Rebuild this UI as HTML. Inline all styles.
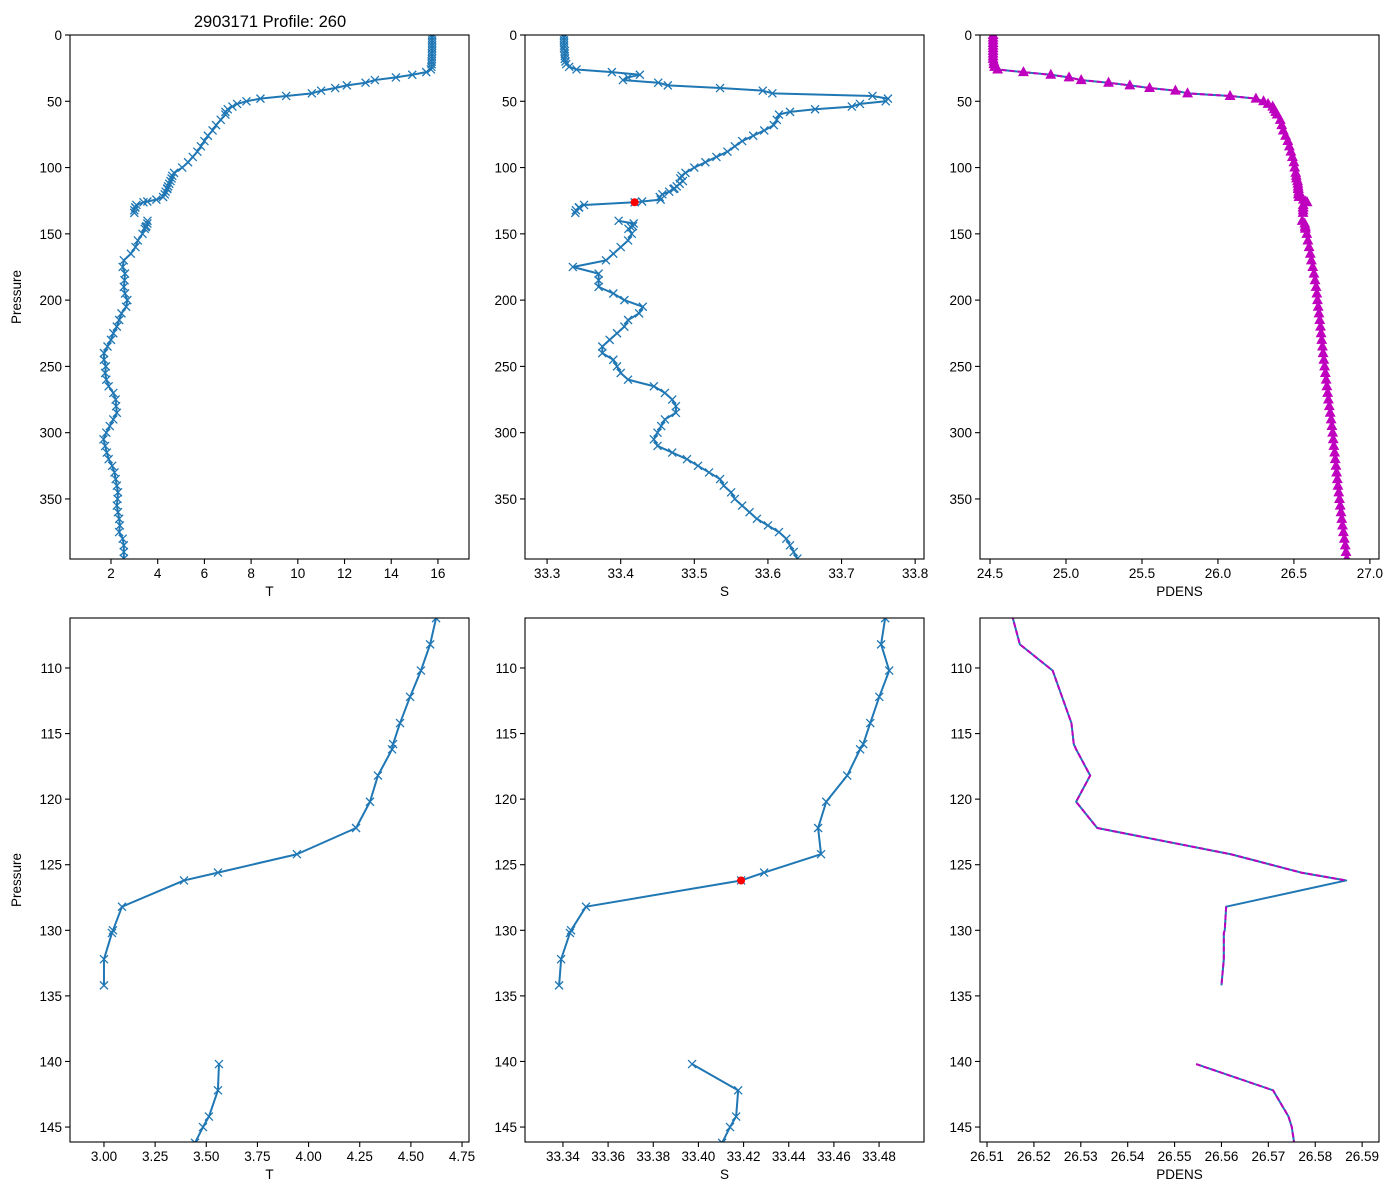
<!DOCTYPE html>
<html><head><meta charset="utf-8"><style>
html,body{margin:0;padding:0;background:#fff;width:1400px;height:1200px;overflow:hidden;}
svg{display:block;font-family:"Liberation Sans","DejaVu Sans",sans-serif;}
</style></head><body>
<svg id="fig" width="1400" height="1200" viewBox="0 0 1400 1200" xmlns="http://www.w3.org/2000/svg">
<rect width="1400" height="1200" fill="#fff"/>
<text x="270" y="27" font-size="16.5" text-anchor="middle">2903171 Profile: 260</text>
</svg>
<script>
// ---- data ----
const pressure = [0,2,4,6,8,10,12,14,16,18,20,22,24,26,
28,30,32,34,36,38,40,42,44,46,48,50,52,54,56,58,60,64,68,72,76,80,84,88,92,96,100,104,
106.2,108.2,110.2,112.2,114.2,115.8,116.2,118.2,120.2,122.2,124.2,125.6,126.2,128.2,130.0,130.2,132.2,134.2,null,140.2,142.2,144.2,145.0,146.2,
150,155,160,165,170,175,180,185,190,195,200,205,210,215,220,225,230,235,240,245,250,255,260,265,270,275,280,285,290,295,300,305,310,315,320,325,330,335,340,345,350,355,360,365,370,375,380,385,390,395];
const temperature = [15.75,15.75,15.75,15.75,15.75,15.75,15.75,15.74,15.74,15.74,15.73,15.73,15.72,15.7,
15.5,14.9,14.2,13.3,12.9,12.1,11.6,11.0,10.6,9.5,8.4,7.8,7.4,7.2,7.0,6.9,6.9,6.7,6.5,6.35,6.15,6.0,5.85,5.7,5.5,5.3,5.05,4.7,
4.623,4.594,4.549,4.496,4.447,4.413,4.408,4.339,4.30,4.232,3.943,3.557,3.391,3.088,3.044,3.039,3.0,3.0,null,3.562,3.557,3.513,3.484,3.445,
3.35,3.15,3.05,2.85,2.55,2.5,2.6,2.58,2.55,2.6,2.7,2.65,2.45,2.35,2.25,2.1,2.0,1.85,1.7,1.7,1.78,1.75,1.8,1.9,2.1,2.2,2.22,2.25,2.1,1.95,1.8,1.68,1.75,1.82,1.9,2.05,2.15,2.2,2.25,2.3,2.28,2.25,2.3,2.35,2.38,2.35,2.5,2.55,2.55,2.55];
const salinity = [33.323,33.323,33.323,33.323,33.323,33.323,33.324,33.324,33.324,33.324,33.325,33.326,33.33,33.34,
33.388,33.426,33.41,33.403,33.451,33.464,33.535,33.593,33.606,33.742,33.763,33.76,33.725,33.714,33.664,33.63,33.615,33.612,33.608,33.595,33.58,33.565,33.555,33.545,33.53,33.515,33.5,33.488,
33.4827,33.4809,33.4845,33.4801,33.4761,33.4730,33.4716,33.4659,33.4566,33.4530,33.4543,33.4291,33.4189,33.3502,33.3436,33.3431,33.3392,33.3383,null,33.3972,33.4176,33.4167,33.4140,33.4105,
33.415,33.41,33.40,33.39,33.38,33.335,33.37,33.37,33.37,33.39,33.405,33.43,33.425,33.41,33.405,33.395,33.385,33.375,33.375,33.39,33.395,33.4,33.41,33.445,33.46,33.47,33.475,33.475,33.46,33.455,33.45,33.445,33.45,33.47,33.49,33.505,33.52,33.535,33.54,33.55,33.555,33.565,33.575,33.585,33.6,33.615,33.625,33.63,33.635,33.64];
const pdens = [24.52,24.52,24.52,24.52,24.52,24.52,24.52,24.52,24.52,24.52,24.525,24.525,24.53,24.55,
24.72,24.9,25.02,25.1,25.28,25.42,25.55,25.72,25.8,26.08,26.25,26.3,26.33,26.36,26.37,26.38,26.39,26.41,26.42,26.43,26.445,26.46,26.47,26.48,26.49,26.5,26.505,26.512,
26.5155,26.517,26.524,26.526,26.528,26.5285,26.529,26.532,26.529,26.5335,26.562,26.577,26.5866,26.561,26.5607,26.5605,26.5605,26.560,null,26.5546,26.571,26.5743,26.575,26.5755,
26.585,26.592,26.6,26.608,26.615,26.624,26.632,26.639,26.646,26.651,26.655,26.66,26.665,26.67,26.675,26.679,26.683,26.688,26.692,26.697,26.702,26.707,26.712,26.717,26.722,26.727,26.733,26.739,26.745,26.75,26.755,26.759,26.763,26.768,26.772,26.777,26.781,26.786,26.79,26.795,26.8,26.805,26.81,26.815,26.82,26.826,26.832,26.838,26.843,26.848];
const flaggedPressure = 126.2;
const topYTicks = [0,50,100,150,200,250,300,350];
const bottomYTicks = [110,115,120,125,130,135,140,145];
const tTicksTop = [2,4,6,8,10,12,14,16];
const sTicksTop = [33.3,33.4,33.5,33.6,33.7,33.8];
const dTicksTop = [24.5,25.0,25.5,26.0,26.5,27.0];
const tTicksBot = [3.00,3.25,3.50,3.75,4.00,4.25,4.50,4.75];
const sTicksBot = [33.34,33.36,33.38,33.40,33.42,33.44,33.46,33.48];
const dTicksBot = [26.51,26.52,26.53,26.54,26.55,26.56,26.57,26.58,26.59];

const NS = 'http://www.w3.org/2000/svg';
const svg = document.getElementById('fig');
const BLUE = '#1f77b4', MAG = '#bf00bf';
function mk(tag, attrs, parent){const e=document.createElementNS(NS,tag);for(const k in attrs)e.setAttribute(k,attrs[k]);(parent||svg).appendChild(e);return e;}

const panels = [
 {id:'t-top', x0:70,x1:469,y0:35,y1:559, xd:[0.245,17.33], yd:[0,395.3], xt:tTicksTop, dec:0, yt:topYTicks, xs:temperature, lab:'T', kind:'x', ylab:true},
 {id:'s-top', x0:525,x1:924,y0:35,y1:559, xd:[33.27,33.812], yd:[0,395.3], xt:sTicksTop, dec:1, yt:topYTicks, xs:salinity, lab:'S', kind:'x', red:true},
 {id:'pdens-top', x0:980,x1:1379,y0:35,y1:559, xd:[24.434,27.06], yd:[0,395.3], xt:dTicksTop, dec:1, yt:topYTicks, xs:pdens, lab:'PDENS', kind:'tri'},
 {id:'t-zoom', x0:70,x1:469,y0:618,y1:1142, xd:[2.834,4.784], yd:[106.19,146.14], xt:tTicksBot, dec:2, yt:bottomYTicks, xs:temperature, lab:'T', kind:'x', ylab:true},
 {id:'s-zoom', x0:525,x1:924,y0:618,y1:1142, xd:[33.3232,33.4999], yd:[106.19,146.14], xt:sTicksBot, dec:2, yt:bottomYTicks, xs:salinity, lab:'S', kind:'x', red:true},
 {id:'pdens-zoom', x0:980,x1:1379,y0:618,y1:1142, xd:[26.5085,26.5936], yd:[106.19,146.14], xt:dTicksBot, dec:2, yt:bottomYTicks, xs:pdens, lab:'PDENS', kind:'none'}
];

panels.forEach((p,pi)=>{
  const sx = v => p.x0 + (v-p.xd[0])/(p.xd[1]-p.xd[0])*(p.x1-p.x0);
  const sy = v => p.y0 + (v-p.yd[0])/(p.yd[1]-p.yd[0])*(p.y1-p.y0);
  const g = mk('g',{});
  
  
  const cp = mk('clipPath',{id:'cp'+pi}, g);
  mk('rect',{x:p.x0,y:p.y0,width:p.x1-p.x0,height:p.y1-p.y0},cp);
  const plot = mk('g',{'clip-path':'url(#cp'+pi+')'}, g);
  function pathFor(skipAfterFlag){
    let d='', pen=false;
    for(let i=0;i<pressure.length;i++){
      const pr=pressure[i], v=p.xs[i];
      if(pr===null||v===null){pen=false;continue;}
      const X=sx(v).toFixed(2), Y=sy(pr).toFixed(2);
      d += (pen?'L':'M')+X+' '+Y;
      pen=true;
      if(skipAfterFlag && pr===flaggedPressure) pen=false;
    }
    return d;
  }
  const line = mk('path',{d:pathFor(false),fill:'none',stroke:BLUE,'stroke-width':2,'stroke-linejoin':'round'},plot);
  
  
  if(p.kind==='tri'||p.kind==='none'){
    const dl = mk('path',{d:pathFor(true),fill:'none',stroke:MAG,'stroke-width':2,'stroke-dasharray':'5,3'},plot);
    
    
  }
  for(let i=0;i<pressure.length;i++){
    const pr=pressure[i], v=p.xs[i];
    if(pr===null||v===null) continue;
    const X=sx(v), Y=sy(pr);
    if(p.kind==='x'){
      const m = mk('path',{d:`M${X-4} ${Y-4}L${X+4} ${Y+4}M${X-4} ${Y+4}L${X+4} ${Y-4}`,stroke:BLUE,'stroke-width':1.3,fill:'none'},plot);
      
      
    } else if(p.kind==='tri'){
      const m = mk('path',{d:`M${X} ${Y-5}L${X+4.6} ${Y+3.5}L${X-4.6} ${Y+3.5}Z`,fill:MAG,stroke:MAG,'stroke-width':1},plot);
      
      
    }
  }
  if(p.red){
    const fi = pressure.indexOf(flaggedPressure);
    const c = mk('circle',{cx:sx(p.xs[fi]),cy:sy(pressure[fi]),r:4,fill:'#ff0000'},plot);
    
    
  }
  const frame = mk('rect',{x:p.x0,y:p.y0,width:p.x1-p.x0,height:p.y1-p.y0,fill:'none',stroke:'#000','stroke-width':1.1},g);
  
  
  p.xt.forEach(t=>{
    const X=sx(t);
    mk('line',{x1:X,x2:X,y1:p.y1,y2:p.y1+5,stroke:'#000','stroke-width':1.1},g);
    const tx = mk('text',{x:X,y:p.y1+19,'font-size':13.5,'text-anchor':'middle'},g);
    tx.textContent = t.toFixed(p.dec);
    
    
  });
  p.yt.forEach(t=>{
    const Y=sy(t);
    mk('line',{x1:p.x0-5,x2:p.x0,y1:Y,y2:Y,stroke:'#000','stroke-width':1.1},g);
    const tx = mk('text',{x:p.x0-8,y:Y+5,'font-size':13.5,'text-anchor':'end'},g);
    tx.textContent = String(t);
    
    
  });
  const xl = mk('text',{x:(p.x0+p.x1)/2,y:p.y1+37,'font-size':13.5,'text-anchor':'middle'},g);
  xl.textContent = p.lab;
  
  
  if(p.ylab){
    const cy=(p.y0+p.y1)/2;
    const yl = mk('text',{x:21,y:cy,'font-size':13.5,'text-anchor':'middle',transform:`rotate(-90 21 ${cy})`},g);
    yl.textContent = 'Pressure';
    
    
  }
});
</script>
</body></html>
